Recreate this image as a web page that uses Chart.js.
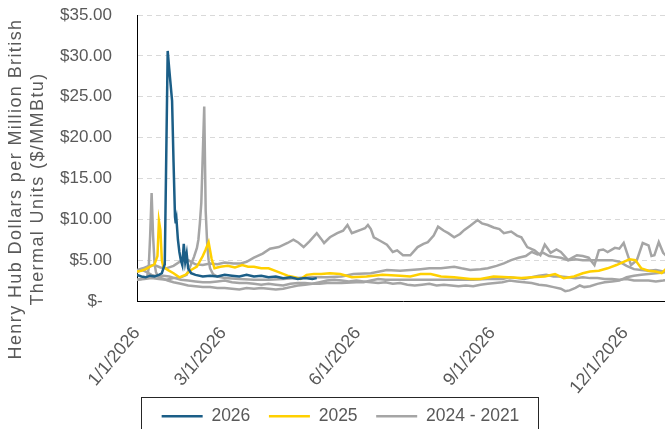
<!DOCTYPE html>
<html>
<head>
<meta charset="utf-8">
<script src="https://cdn.jsdelivr.net/npm/chart.js@4.4.1/dist/chart.umd.min.js"></script>
<style>
  html, body { margin: 0; padding: 0; background: #fff; overflow: hidden; }
  #wrap { position: relative; width: 669px; height: 429px; }
</style>
</head>
<body>
<div id="wrap"><canvas id="hhChart"></canvas></div>
<script>
// Henry Hub daily spot price, day of year (0 = 1/1) vs $/MMBtu
const days2026 = [0, 3, 6, 9, 12, 15, 17, 19, 21, 22, 24, 25, 26, 26.5, 27, 28, 29, 30, 31, 32, 33, 34, 35, 37, 40, 45, 50, 55, 60, 65, 70, 75, 80, 85, 90, 95, 100, 105, 110, 115, 120, 123];
const price2026 = [3.2, 3.0, 2.9, 3.1, 3.0, 3.2, 3.4, 4.5, 30.6, 28.5, 24.5, 17, 10.3, 9.5, 10.0, 7.5, 6.0, 5.0, 4.4, 7.0, 4.8, 5.8, 4.0, 3.4, 3.2, 3.0, 3.1, 3.0, 3.2, 3.1, 3.0, 3.2, 3.0, 3.1, 2.9, 3.0, 2.8, 2.9, 2.7, 2.8, 2.7, 2.8];

const days2025 = [0, 3, 6, 9, 12, 14, 15, 16, 17, 18, 21, 25, 29, 33, 37, 41, 45, 47, 49, 51, 53, 57, 62, 67, 72, 76, 80, 85, 90, 96, 103, 108, 112, 116, 121, 126, 132, 139, 147, 157, 168, 180, 187, 194, 201, 208, 217, 228, 235, 244, 254, 263, 270, 279, 286, 292, 299, 305, 310, 316, 322, 328, 333, 337, 341, 345, 350, 355, 359, 364];
const price2025 = [3.6, 3.7, 3.9, 4.2, 4.5, 5.5, 9.8, 8.7, 5.0, 4.2, 3.8, 3.4, 2.9, 3.2, 3.8, 4.2, 5.5, 6.3, 7.2, 5.2, 4.0, 4.2, 4.3, 4.1, 4.4, 4.2, 4.2, 4.0, 4.0, 3.6, 3.1, 2.9, 2.7, 3.2, 3.3, 3.3, 3.4, 3.3, 2.9, 3.0, 3.2, 3.1, 3.0, 3.3, 3.3, 3.0, 2.9, 2.7, 2.7, 3.0, 2.9, 2.8, 2.9, 3.0, 3.3, 2.8, 3.0, 3.4, 3.6, 3.7, 4.0, 4.4, 4.8, 5.1, 5.0, 4.0, 3.7, 3.6, 3.4, 4.3];

const days2024 = [0, 3, 5, 7, 8, 9, 10, 11, 12, 13, 15, 18, 21, 25, 30, 35, 40, 45, 50, 55, 60, 65, 70, 75, 80, 85, 90, 95, 100, 105, 110, 115, 120, 125, 130, 135, 140, 145, 150, 155, 160, 165, 170, 175, 180, 185, 190, 195, 200, 205, 210, 215, 220, 225, 230, 235, 240, 245, 250, 255, 260, 265, 270, 275, 280, 285, 290, 293, 296, 300, 303, 306, 310, 315, 320, 325, 330, 335, 340, 345, 350, 355, 360, 364];
const price2024 = [2.6, 2.7, 2.8, 3.0, 4.0, 8.0, 13.2, 8.0, 4.6, 3.5, 2.9, 2.7, 2.5, 2.3, 2.1, 1.9, 1.8, 1.7, 1.7, 1.6, 1.6, 1.5, 1.4, 1.6, 1.5, 1.6, 1.5, 1.4, 1.5, 1.7, 1.9, 2.0, 2.1, 2.3, 2.5, 2.6, 2.5, 2.4, 2.5, 2.4, 2.3, 2.2, 2.3, 2.1, 2.2, 2.0, 1.9, 2.0, 2.1, 1.9, 2.0, 1.9, 1.8, 1.9, 1.8, 2.0, 2.1, 2.2, 2.3, 2.5, 2.4, 2.3, 2.2, 2.0, 1.9, 1.7, 1.5, 1.2, 1.3, 1.6, 1.9, 1.7, 1.8, 2.1, 2.3, 2.4, 2.5, 2.9, 3.1, 3.2, 3.3, 3.4, 3.5, 3.6];

const days2023 = [0, 3, 6, 10, 14, 18, 22, 26, 30, 35, 40, 45, 50, 55, 60, 65, 70, 75, 80, 85, 90, 95, 100, 105, 110, 115, 120, 125, 130, 140, 150, 155, 160, 165, 170, 180, 190, 200, 210, 220, 230, 240, 250, 255, 260, 265, 270, 275, 280, 285, 290, 295, 300, 305, 310, 315, 320, 325, 330, 335, 340, 345, 350, 355, 360, 364];
const price2023 = [3.5, 3.8, 3.6, 3.2, 3.0, 3.1, 3.0, 2.8, 2.6, 2.5, 2.4, 2.3, 2.3, 2.4, 2.5, 2.3, 2.2, 2.2, 2.1, 2.0, 2.1, 2.0, 1.9, 2.1, 2.2, 2.2, 2.1, 2.1, 2.2, 2.2, 2.3, 2.3, 2.5, 2.7, 2.6, 2.6, 2.6, 2.6, 2.6, 2.6, 2.6, 2.7, 2.7, 2.9, 2.8, 2.7, 2.9, 3.1, 3.2, 3.0, 3.0, 2.9, 2.8, 2.9, 2.8, 2.8, 2.7, 2.7, 2.6, 2.7, 2.5, 2.5, 2.5, 2.4, 2.5, 2.6];

const days2022 = [0, 4, 8, 12, 16, 20, 25, 30, 35, 40, 45, 50, 55, 60, 66, 71, 75, 80, 86, 91, 97, 103, 107, 110, 114, 118, 123, 126, 128, 132, 137, 141, 144, 147, 150, 153, 156, 158, 160, 162, 166, 171, 175, 178, 182, 187, 192, 196, 199, 203, 206, 210, 213, 217, 221, 224, 228, 233, 236, 240, 244, 248, 251, 256, 260, 263, 267, 272, 276, 279, 283, 287, 290, 295, 298, 301, 305, 309, 313, 316, 319, 322, 327, 330, 333, 336, 338, 342, 346, 350, 352, 354, 357, 360, 364];
const price2022 = [3.8, 4.0, 4.3, 4.4, 4.1, 4.0, 4.3, 4.9, 5.0, 4.5, 4.4, 4.6, 4.5, 4.7, 4.6, 4.6, 4.8, 5.3, 5.8, 6.4, 6.6, 7.1, 7.5, 7.2, 6.6, 7.3, 8.3, 7.6, 7.1, 7.8, 8.3, 8.6, 9.3, 8.3, 8.5, 8.7, 8.9, 9.3, 8.8, 7.8, 7.4, 6.9, 6.0, 6.2, 5.6, 5.6, 6.6, 7.0, 7.2, 8.0, 9.1, 8.6, 8.3, 7.8, 8.2, 8.7, 9.2, 9.9, 9.5, 9.3, 9.0, 8.8, 8.3, 8.5, 8.0, 7.8, 6.6, 6.2, 5.6, 6.9, 5.9, 6.3, 6.0, 5.0, 5.3, 5.6, 5.5, 5.3, 4.4, 6.2, 6.3, 6.0, 6.5, 6.4, 7.1, 5.5, 4.4, 5.0, 7.1, 6.8, 5.5, 5.6, 7.2, 5.9, 5.2];

const days2021 = [0, 5, 10, 15, 20, 25, 30, 34, 37, 39, 41, 42, 43, 44, 46, 47, 48, 49, 50, 52, 55, 60, 70, 80, 90, 100, 110, 120, 130, 140, 148, 160, 171, 180, 187, 194, 200, 208, 217, 222, 228, 235, 240, 246, 251, 256, 261, 266, 270, 274, 278, 282, 286, 290, 295, 300, 305, 310, 315, 320, 325, 330, 335, 340, 345, 350, 355, 360, 364];
const price2021 = [2.6, 2.7, 2.8, 2.7, 2.6, 2.8, 2.9, 3.2, 4.5, 5.4, 6.5, 7.5, 9.5, 12.0, 23.8, 11.0, 7.1, 5.0, 4.0, 3.3, 3.0, 2.8, 2.7, 2.6, 2.6, 2.7, 2.8, 2.9, 2.9, 3.0, 3.3, 3.4, 3.8, 3.7, 3.8, 3.9, 4.0, 4.0, 4.2, 4.0, 3.8, 3.9, 4.0, 4.3, 4.6, 5.0, 5.3, 5.5, 6.0, 5.7, 5.9, 5.5, 5.4, 5.3, 5.0, 5.1, 5.0, 5.0, 5.0, 5.0, 5.0, 4.8, 4.3, 3.9, 3.8, 3.7, 3.8, 3.6, 3.7];

const tickDays = [0, 59, 151, 243, 334];
const tickLabels = ['1/1/2026', '3/1/2026', '6/1/2026', '9/1/2026', '12/1/2026'];
const yTitleLines = ['Henry Hub Dollars per Million British', 'Thermal Units ($/MMBtu)'];

const font = '"Liberation Sans", Arial, sans-serif';
const toPts = (d, v) => d.map((x, i) => ({ x: x, y: v[i] }));

function line(label, days, vals, color) {
  return {
    label: label,
    data: toPts(days, vals),
    borderColor: color,
    backgroundColor: color,
    borderWidth: 2.5,
    pointRadius: 0,
    pointStyle: 'line',
    tension: 0,
    fill: false
  };
}

// y title (two lines) and the framed legend, drawn after the chart
const extras = {
  id: 'extras',
  afterDraw(chart) {
    const c = chart.ctx;
    c.save();
    c.fillStyle = '#595959';
    c.font = '18px ' + font;
    c.textAlign = 'center';
    c.textBaseline = 'middle';
    c.letterSpacing = '1.4px';
    yTitleLines.forEach((t, i) => {
      c.save();
      c.translate(16 + i * 22, 189);
      c.rotate(-Math.PI / 2);
      c.fillText(t, 0, 0);
      c.restore();
    });
    c.restore();

    const boxes = chart.legend.legendHitBoxes;
    if (boxes && boxes.length) {
      const first = boxes[0], last = boxes[boxes.length - 1];
      c.save();
      c.strokeStyle = '#262626';
      c.lineWidth = 1;
      c.strokeRect(Math.round(first.left - 21) + 0.5, 397.5, Math.round(last.left + last.width - first.left + 39), 40);
      c.restore();
    }
  }
};

const ctx = document.getElementById('hhChart').getContext('2d');
const hhChart = new Chart(ctx, {
  type: 'line',
  data: {
    datasets: [
      line('2026   ', days2026, price2026, '#1B5E87'),
      line('2025   ', days2025, price2025, '#FFD000'),
      line('2024 - 2021', days2024, price2024, '#A5A5A5'),
      line('', days2023, price2023, '#A5A5A5'),
      line('', days2022, price2022, '#A5A5A5'),
      line('', days2021, price2021, '#A5A5A5')
    ]
  },
  options: {
    responsive: true,
    maintainAspectRatio: false,
    animation: false,
    layout: { padding: { top: 15, right: 0, bottom: -6, left: 12 } },
    plugins: {
      legend: {
        position: 'bottom',
        labels: {
          filter: item => item.datasetIndex < 3,
          usePointStyle: true,
          pointStyle: 'line',
          pointStyleWidth: 41,
          boxHeight: 17,
          padding: 4,
          color: '#595959',
          font: { family: font, size: 17.5 }
        }
      },
      tooltip: { enabled: false }
    },
    scales: {
      x: {
        type: 'linear',
        min: 0,
        max: 364,
        grid: { display: false },
        border: { display: true, color: '#000', width: 1 },
        afterBuildTicks: s => { s.ticks = tickDays.map(v => ({ value: v })); },
        afterFit: s => { s.height = 102.5; },
        ticks: {
          autoSkip: false,
          minRotation: 50,
          maxRotation: 50,
          padding: 14,
          color: '#595959',
          font: { family: font, size: 18 },
          callback: v => tickLabels[tickDays.indexOf(v)]
        }
      },
      y: {
        min: 0,
        max: 35,
        afterFit: s => { s.width = 125; s.paddingTop = 0; s.paddingBottom = 0; },
        grid: {
          drawTicks: false,
          color: c => c.tick && c.tick.value === 0 ? 'rgba(0,0,0,0)' : '#D9D9D9',
          lineWidth: 1
        },
        border: { display: true, color: '#000', width: 1, dash: [5, 4] },
        ticks: {
          stepSize: 5,
          padding: 25,
          color: '#595959',
          font: { family: font, size: 17 },
          callback: v => v === 0 ? '$-  ' : '$' + v.toFixed(2)
        }
      }
    }
  },
  plugins: [extras]
});
</script>
</body>
</html>
